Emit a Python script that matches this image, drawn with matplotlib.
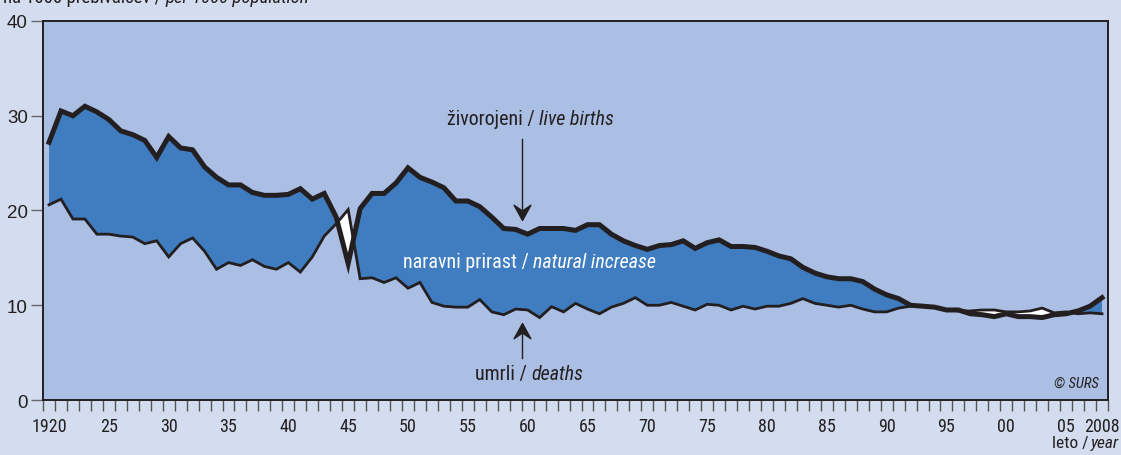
import os
import numpy as np
import matplotlib
matplotlib.use("Agg")
import matplotlib.pyplot as plt
from matplotlib import font_manager as fm
from matplotlib.path import Path

# Slovenia: live births and deaths per 1000 population, 1920-2008
years = np.arange(1920, 2009)
births = [27.2, 30.5, 30.0, 31.0, 30.4, 29.6, 28.4, 28.0, 27.4, 25.6,
          27.8, 26.6, 26.4, 24.6, 23.5, 22.7, 22.7, 21.9, 21.6, 21.6,
          21.7, 22.3, 21.2, 21.8, 19.3, 14.4, 20.2, 21.8, 21.8, 22.9,
          24.5, 23.5, 23.0, 22.4, 21.0, 21.0, 20.4, 19.3, 18.1, 18.0,
          17.5, 18.1, 18.1, 18.1, 17.9, 18.5, 18.5, 17.5, 16.8, 16.3,
          15.9, 16.3, 16.4, 16.8, 16.0, 16.6, 16.9, 16.2, 16.2, 16.1,
          15.7, 15.2, 14.9, 14.0, 13.4, 13.0, 12.8, 12.8, 12.5, 11.7,
          11.1, 10.7, 10.0, 9.9, 9.8, 9.5, 9.5, 9.1, 9.0, 8.8,
          9.1, 8.8, 8.8, 8.7, 9.0, 9.1, 9.4, 9.9, 10.8]
deaths = [20.6, 21.2, 19.1, 19.1, 17.5, 17.5, 17.3, 17.2, 16.5, 16.8,
          15.1, 16.5, 17.1, 15.7, 13.8, 14.5, 14.2, 14.8, 14.1, 13.8,
          14.5, 13.5, 15.1, 17.3, 18.6, 20.1, 12.8, 12.9, 12.4, 12.9,
          11.8, 12.4, 10.3, 9.9, 9.8, 9.8, 10.6, 9.3, 9.0, 9.6,
          9.5, 8.7, 9.85, 9.3, 10.2, 9.6, 9.1, 9.8, 10.2, 10.8,
          10.0, 10.0, 10.3, 9.9, 9.5, 10.1, 10.0, 9.5, 9.9, 9.6,
          9.9, 9.9, 10.2, 10.7, 10.2, 10.0, 9.8, 10.0, 9.6, 9.3,
          9.3, 9.7, 9.9, 10.0, 9.8, 9.5, 9.4, 9.4, 9.5, 9.5,
          9.3, 9.3, 9.4, 9.7, 9.2, 9.3, 9.1, 9.2, 9.1]

label_years = [1920, 1925, 1930, 1935, 1940, 1945, 1950, 1955, 1960, 1965,
               1970, 1975, 1980, 1985, 1990, 1995, 2000, 2005, 2008]
label_text = ['1920', '25', '30', '35', '40', '45', '50', '55', '60', '65',
              '70', '75', '80', '85', '90', '95', '00', '05', '2008']

fig_bg = '#d4ddef'
ax_bg = '#abbee3'
blue = '#3f7dc0'
ink = '#231f20'


def pick_font(names):
    """First installed font file among names (basenames), else None."""
    files = {os.path.basename(f.fname): f.fname for f in fm.fontManager.ttflist}
    for n in names:
        if n in files:
            return files[n]
    return None


_reg = pick_font(['LiberationSansNarrow-Regular.ttf', 'RobotoCondensed-Regular.ttf',
                  'DejaVuSansCondensed.ttf'])
_ita = pick_font(['LiberationSansNarrow-Italic.ttf', 'RobotoCondensed-Italic.ttf',
                  'DejaVuSansCondensed-Oblique.ttf'])


def fp(size, italic=False):
    path = _ita if italic else _reg
    if path:
        return fm.FontProperties(fname=path, size=size)
    return fm.FontProperties(family='Liberation Sans', size=size,
                             style='italic' if italic else 'normal', stretch='condensed')


def two_part(ax, x, y, plain, ital, size, color, transform, gap=3, va='center'):
    """Upright text followed by italic text, starting at x."""
    t = ax.text(x, y, plain, ha='left', va=va, fontproperties=fp(size),
                color=color, transform=transform, clip_on=False)
    ax.annotate(ital, xy=(1, 0.5), xycoords=t, xytext=(gap, 0),
                textcoords='offset points', ha='left', va='center',
                fontproperties=fp(size, True), color=color, annotation_clip=False)
    return t


b = np.array(births)
d = np.array(deaths)

fig = plt.figure(figsize=(11.21, 4.56), dpi=100, facecolor=fig_bg)
ax = fig.add_axes([0.0384, 0.1206, 0.9500, 0.8312], facecolor=ax_bg)

ax.fill_between(years, d, b, where=b >= d, interpolate=True, color=blue, lw=0)
ax.fill_between(years, d, b, where=b < d, interpolate=True, color='white', lw=0)
ax.plot(years, d, color=ink, lw=2.0, solid_joinstyle='miter')
ax.plot(years, b, color=ink, lw=3.6, solid_joinstyle='miter')

ax.set_xlim(1919.5, 2008.5)
ax.set_ylim(0, 40)

# year ticks at boundaries, labels at year centres
ax.set_xticks(np.arange(1919.5, 2009.0, 1.0), minor=True)
ax.set_xticks(label_years)
ax.set_xticklabels(label_text, fontproperties=fp(13), color=ink)
ax.tick_params(axis='x', which='major', length=0, pad=12)
ax.tick_params(axis='x', which='minor', length=8, width=1.0, color='#555555', direction='out')
ax.set_yticks([0, 10, 20, 30, 40])
ax.set_yticklabels(['0', '10', '20', '30', '40'], family=['Liberation Sans', 'DejaVu Sans'],
                   fontsize=13.5, color=ink)
ax.tick_params(axis='y', length=9, width=1.0, color='#666666', pad=2)
for s in ax.spines.values():
    s.set_color(ink)
    s.set_linewidth(1.4)

# barbed arrowheads
head = Path([(0, 0), (-0.55, -1.0), (0, -0.62), (0.55, -1.0), (0, 0)],
            [Path.MOVETO, Path.LINETO, Path.LINETO, Path.LINETO, Path.CLOSEPOLY])
head_down = Path(head.vertices * np.array([1, -1]), head.codes)

ax.plot([1959.5, 1959.5], [27.5, 19.5], color=ink, lw=1.0)
ax.plot([1959.5], [18.95], marker=head_down, markersize=22, color=ink, mec=ink)
ax.plot([1959.5, 1959.5], [4.4, 7.6], color=ink, lw=1.0)
ax.plot([1959.5], [8.15], marker=head, markersize=22, color=ink, mec=ink)

two_part(ax, 1953.26, 29.7, 'živorojeni /', 'live births', 14.4, ink, ax.transData)
two_part(ax, 1949.59, 14.6, 'naravni prirast /', 'natural increase', 14.4, 'white', ax.transData)
two_part(ax, 1955.6, 2.75, 'umrli /', 'deaths', 14.4, ink, ax.transData)
ax.text(0.9916, 0.045, '© SURS', transform=ax.transAxes, ha='right', va='center',
        fontproperties=fp(10.5, True), color=ink)

# x-axis title, right-aligned to the figure edge
t_year = ax.text(0.9985, 0.0285, 'year', ha='right', va='center', fontproperties=fp(12.5, True),
                 color=ink, transform=fig.transFigure, clip_on=False)
ax.annotate('leto /', xy=(0, 0.5), xycoords=t_year, xytext=(-2, 0),
            textcoords='offset points', ha='right', va='center',
            fontproperties=fp(12.5), color=ink, annotation_clip=False)

# y-axis unit, mostly cut off at the top edge
two_part(ax, 0.0027, 0.9934, 'na 1000 prebivalcev /', 'per 1000 population', 13.5, ink,
         fig.transFigure, va='baseline')

fig.savefig('out.png', dpi=100, facecolor=fig_bg)
